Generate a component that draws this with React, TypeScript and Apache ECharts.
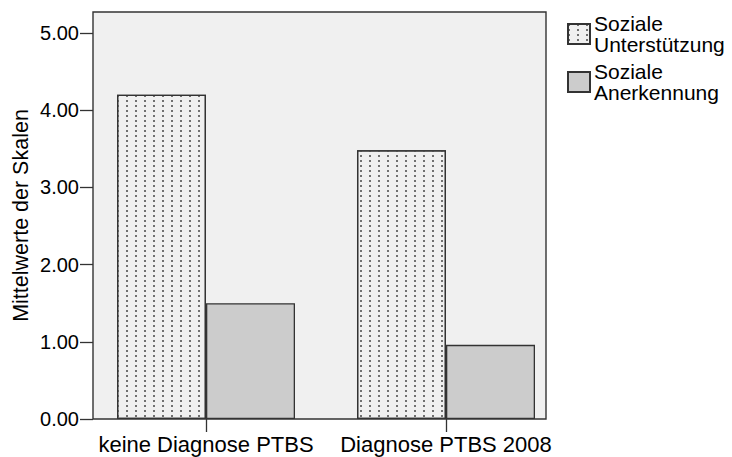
import React, { useEffect, useRef } from "react";
import * as echarts from "echarts";

const categories = ["keine Diagnose PTBS", "Diagnose PTBS 2008"];
const seriesNames = ["Soziale\nUnterstützung", "Soziale\nAnerkennung"];
const unterstuetzung = [4.2, 3.48];
const anerkennung = [1.5, 0.96];
const yTicks = [0, 1, 2, 3, 4, 5];
const yAxisTitle = "Mittelwerte der Skalen";

const FONT = "'Liberation Sans', Arial, sans-serif";
const FRAME = { x: 93, y: 12, w: 453, h: 407 };

export default function App() {
  const ref = useRef<HTMLDivElement>(null);
  useEffect(() => {
    if (!ref.current) return;
    const chart = echarts.init(ref.current, null, { renderer: "svg" });
    const dotDecal = {
      symbol: "rect",
      symbolSize: 1,
      color: "#707070",
      dashArrayX: [1.2, 6.4],
      dashArrayY: [2, 2.2],
      rotation: 0,
    };
    chart.setOption({
      animation: false,
      backgroundColor: "#ffffff",
      textStyle: { fontFamily: FONT },
      graphic: [
        {
          type: "rect",
          z: -10,
          silent: true,
          shape: { x: FRAME.x, y: FRAME.y, width: FRAME.w, height: FRAME.h },
          style: { fill: "#f0f0f0", stroke: "#333333", lineWidth: 1.4 },
        },
      ],
      grid: { left: 86, width: 480, top: 12, height: 407, show: false },
      legend: {
        orient: "vertical",
        left: 567,
        top: 13,
        padding: 0,
        itemWidth: 22,
        itemHeight: 20,
        itemGap: 6,
        icon: "rect",
        data: seriesNames,
        textStyle: { fontFamily: FONT, fontSize: 21, lineHeight: 21, color: "#000", padding: [0, 0, 0, -1] },
      },
      xAxis: {
        type: "category",
        data: categories,
        axisLine: { show: false },
        axisTick: { show: true, alignWithLabel: true, length: 13, lineStyle: { color: "#333", width: 1.3 } },
        axisLabel: { fontFamily: FONT, fontSize: 22, color: "#000", margin: 14, interval: 0 },
        splitLine: { show: false },
      },
      yAxis: {
        type: "value",
        min: 0,
        max: 5.27,
        interval: 1,
        offset: -7,
        name: yAxisTitle,
        nameLocation: "middle",
        nameGap: 61,
        nameMoveOverlap: false,
        nameTextStyle: { fontFamily: FONT, fontSize: 21.5, color: "#000" },
        axisLine: { show: false },
        axisTick: { show: true, length: 13, customValues: yTicks, lineStyle: { color: "#333", width: 1.3 } },
        axisLabel: {
          fontFamily: FONT,
          fontSize: 20,
          color: "#000",
          margin: 14,
          customValues: yTicks,
          formatter: (v: number) => v.toFixed(2),
        },
        splitLine: { show: false },
      },
      series: [
        {
          name: seriesNames[0],
          type: "bar",
          data: unterstuetzung,
          barWidth: 89,
          barGap: "0%",
          itemStyle: { color: "#f0f0f0", borderColor: "#333333", borderWidth: 1.3, decal: dotDecal },
        },
        {
          name: seriesNames[1],
          type: "bar",
          data: anerkennung,
          barWidth: 89,
          barGap: "0%",
          itemStyle: { color: "#cccccc", borderColor: "#333333", borderWidth: 1.3 },
        },
      ],
    });
    return () => chart.dispose();
  }, []);
  return (
    <div
      ref={ref}
      style={{ position: "absolute", left: 0, top: 0, width: 732, height: 457 }}
    />
  );
}
